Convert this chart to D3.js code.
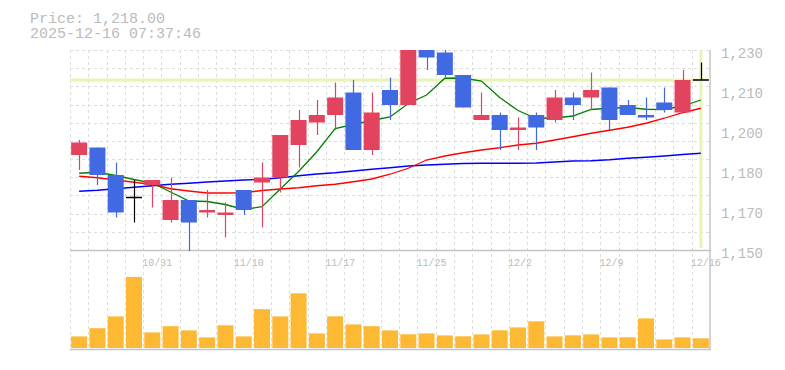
<!DOCTYPE html>
<meta charset="utf-8">
<head>
  <script src="https://d3js.org/d3.v7.min.js"></script>
  <style>
    body { margin: 0; background: #fff; }
    text { font-family: "Liberation Mono", "DejaVu Sans Mono", monospace; fill: #bbb; }
  </style>
</head>
<body>
  <div id="chart"></div>
  <script>
    var dates = ["10/27", "10/28", "10/29", "10/30", "10/31", "11/4", "11/5", "11/6", "11/7",
      "11/10", "11/11", "11/12", "11/13", "11/14", "11/17", "11/18", "11/19", "11/20", "11/21",
      "11/25", "11/26", "11/27", "11/28", "12/1", "12/2", "12/3", "12/4", "12/5",
      "12/8", "12/9", "12/10", "12/11", "12/12", "12/15", "12/16"];
    var opens = [1188, 1191, 1180, 1171, 1176, 1162, 1170, 1165, 1164, 1174, 1177, 1179, 1192, 1201, 1204, 1213, 1190, 1214, 1208,
      1233, 1229, 1220, 1202, 1204, 1198, 1204, 1202, 1211, 1211, 1215, 1208, 1204, 1209, 1205, 1218];
    var highs = [1194, 1191, 1185, 1178, 1178, 1179, 1170, 1174, 1169, 1174, 1185, 1196, 1206, 1210, 1217, 1218, 1213, 1219, 1236,
      1236, 1231, 1220, 1213, 1205, 1203, 1205, 1214, 1213, 1221, 1215, 1210, 1211, 1215, 1222, 1225];
    var lows = [1182, 1176, 1163, 1161, 1167, 1161, 1149, 1163, 1155, 1164, 1159, 1173, 1183, 1196, 1198, 1190, 1188, 1202, 1208,
      1222, 1219, 1207, 1202, 1190, 1190, 1190, 1201, 1202, 1206, 1198, 1204, 1202, 1205, 1205, 1218];
    var closes = [1193, 1180, 1165, 1171, 1178, 1170, 1161, 1166, 1165, 1166, 1179, 1196, 1202, 1204, 1211, 1190, 1205, 1208, 1233,
      1227, 1220, 1207, 1204, 1198, 1199, 1199, 1211, 1208, 1214, 1202, 1204, 1203, 1206, 1218, 1218];
    var volumes = [11600, 19800, 31600, 71100, 15600, 21800, 17600, 10600, 22700, 11600, 38800, 31600, 54700, 14600, 31700,
      23600, 21800, 17600, 13700, 14600, 12600, 11700, 13600, 17700, 20600, 26700, 11600, 12700, 13600, 10600, 10700,
      29600, 8600, 10600, 9700];
    var ma5 = [1180.7, 1181.1, 1179.8, 1178.2, 1176.8, 1173.2, 1169.6, 1169.4, 1168.2, 1166.2, 1167.3, 1174.4, 1181.4, 1189.3,
      1198.6, 1200.2, 1201.8, 1203.2, 1208.6, 1212, 1218.7, 1218.8, 1217.6, 1211, 1205.8, 1202.6, 1202.8, 1203.6, 1206.2,
      1206.7, 1207, 1206.3, 1206.2, 1207.6, 1210];
    var ma25 = [1179.5, 1178.9, 1178, 1177.1, 1176.2, 1174.5, 1173.6, 1172.8, 1172.8, 1172.9, 1173.8, 1174.4, 1174.9, 1175.7,
      1176.3, 1177.3, 1178.4, 1180.3, 1182.7, 1186, 1187.6, 1188.9, 1190, 1190.9, 1192, 1192.7, 1194, 1195.3, 1196.7,
      1197.9, 1199.1, 1200.7, 1202.7, 1204.9, 1206.7];
    var ma75 = [1173.5, 1173.9, 1174.5, 1175.1, 1175.7, 1176.3, 1176.7, 1177.2, 1177.6, 1178, 1178.2, 1178.9, 1179.7, 1180.4,
      1180.9, 1181.6, 1182.3, 1182.9, 1183.6, 1184, 1184.3, 1184.6, 1184.7, 1184.7, 1184.7, 1184.8, 1185.2, 1185.6, 1185.7,
      1186.1, 1186.7, 1187.1, 1187.6, 1188.2, 1188.7];
    var labelDates = ["10/31", "11/10", "11/17", "11/25", "12/2", "12/9", "12/16"];
    var yTicks = [1150, 1166, 1182, 1198, 1214, 1230];
    var yTickLabels = ["1,150", "1,170", "1,180", "1,200", "1,210", "1,230"];
    var lastPrice = 1218;
    var headerLines = ["Price: 1,218.00", "2025-12-16 07:37:46"];

    var plotLeft = 70, plotRight = 710, plotTop = 50, priceBottom = 250, volBottom = 348, frameBottom = 349.5;

    var svg = d3.select("#chart").append("svg")
      .attr("width", 785)
      .attr("height", 370);

    var x = d3.scaleBand()
      .domain(dates)
      .range([plotLeft, plotRight])
      .paddingInner(0.125)
      .paddingOuter(0.0625);
    var step = x.step();
    var cx = function (d) { return x(d) + x.bandwidth() / 2; };

    var y = d3.scaleLinear().domain([1150, 1230]).range([priceBottom, plotTop]);
    var yVol = d3.scaleLinear().domain([0, 98000]).range([volBottom, priceBottom]);

    svg.append("defs").append("clipPath").attr("id", "clip")
      .append("rect")
      .attr("x", plotLeft).attr("y", plotTop)
      .attr("width", plotRight - plotLeft).attr("height", priceBottom - plotTop + 1);

    // grid
    var grid = svg.append("g")
      .attr("stroke", "#ddd")
      .attr("stroke-dasharray", "3,3")
      .attr("shape-rendering", "crispEdges");
    d3.range(dates.length).forEach(function (i) {
      var gx = Math.round(plotLeft + i * step) + 0.5;
      grid.append("line").attr("x1", gx).attr("x2", gx).attr("y1", plotTop).attr("y2", frameBottom);
    });
    var hStep = (priceBottom - plotTop) / 11;
    d3.range(11).forEach(function (k) {
      var gy = Math.round(plotTop + k * hStep) + 0.5;
      grid.append("line").attr("x1", plotLeft).attr("x2", plotRight).attr("y1", gy).attr("y2", gy);
    });

    // frame
    var frame = svg.append("g").attr("stroke", "#c4c4c4").attr("stroke-width", 1.5);
    frame.append("line").attr("x1", plotLeft).attr("x2", plotRight + 0.75).attr("y1", priceBottom + 0.5).attr("y2", priceBottom + 0.5);
    frame.append("line").attr("x1", plotLeft).attr("x2", plotRight + 0.75).attr("y1", frameBottom).attr("y2", frameBottom);
    frame.append("line").attr("x1", plotRight).attr("x2", plotRight).attr("y1", plotTop).attr("y2", frameBottom + 0.75);

    // current price markers
    var last = dates[dates.length - 1];
    svg.append("line")
      .attr("x1", plotLeft).attr("x2", plotRight)
      .attr("y1", y(lastPrice)).attr("y2", y(lastPrice))
      .attr("stroke", "#e6f5b4").attr("stroke-width", 3);
    svg.append("line")
      .attr("x1", cx(last)).attr("x2", cx(last))
      .attr("y1", plotTop).attr("y2", priceBottom - 2)
      .attr("stroke", "#e6f5b4").attr("stroke-width", 3);

    var plot = svg.append("g").attr("clip-path", "url(#clip)");

    // moving averages
    var line = d3.line()
      .x(function (d, i) { return cx(dates[i]); })
      .y(function (d) { return y(d); });
    [[ma75, "#0000ff"], [ma25, "#ff0000"], [ma5, "#008000"]].forEach(function (m) {
      plot.append("path")
        .datum(m[0])
        .attr("fill", "none")
        .attr("stroke", m[1])
        .attr("stroke-width", 1.3)
        .attr("d", line);
    });

    // candles
    var candles = dates.map(function (d, i) {
      return { date: d, o: opens[i], h: highs[i], l: lows[i], c: closes[i], v: volumes[i] };
    });
    var color = function (d) {
      if (d.c > d.o) return "#e2445f";
      if (d.c < d.o) return "#4169e1";
      return "#000";
    };

    plot.selectAll(".wick")
      .data(candles)
      .join("line")
      .attr("class", "wick")
      .attr("x1", function (d) { return Math.round(cx(d.date)) + 0.5; })
      .attr("x2", function (d) { return Math.round(cx(d.date)) + 0.5; })
      .attr("y1", function (d) { return y(d.h); })
      .attr("y2", function (d) { return y(d.l); })
      .attr("stroke", color)
      .attr("stroke-width", 1.2);

    plot.selectAll(".body")
      .data(candles)
      .join("rect")
      .attr("class", "body")
      .attr("x", function (d) { return x(d.date); })
      .attr("width", x.bandwidth())
      .attr("y", function (d) { return d.o === d.c ? y(d.c) - 0.75 : y(Math.max(d.o, d.c)); })
      .attr("height", function (d) { return d.o === d.c ? 1.5 : y(Math.min(d.o, d.c)) - y(Math.max(d.o, d.c)); })
      .attr("fill", color);

    // volume
    svg.selectAll(".vol")
      .data(candles)
      .join("rect")
      .attr("class", "vol")
      .attr("x", function (d) { return x(d.date); })
      .attr("width", x.bandwidth())
      .attr("y", function (d) { return yVol(d.v); })
      .attr("height", function (d) { return volBottom - yVol(d.v); })
      .attr("fill", "#fdb934");

    // axes
    var yAxis = svg.append("g")
      .attr("transform", "translate(" + plotRight + ",0)")
      .call(d3.axisRight(y).tickValues(yTicks)
        .tickFormat(function (d, i) { return yTickLabels[i]; })
        .tickSize(0).tickPadding(11));
    yAxis.select(".domain").remove();
    yAxis.selectAll("text")
      .attr("dy", "0.52em")
      .style("font-size", "14px")
      .style("fill", "#bbb")
      .style("font-family", "Liberation Mono, monospace");

    var xAxis = svg.append("g")
      .attr("transform", "translate(0," + priceBottom + ")")
      .call(d3.axisBottom(x).tickValues(labelDates).tickSize(0));
    xAxis.select(".domain").remove();
    xAxis.selectAll("text")
      .attr("y", 16)
      .attr("dy", 0)
      .attr("x", -x.bandwidth() / 2 - 2)
      .attr("text-anchor", "start")
      .style("font-size", "10px")
      .style("fill", "#bbb")
      .style("font-family", "Liberation Mono, monospace");

    // header
    svg.selectAll(".header")
      .data(headerLines)
      .join("text")
      .attr("class", "header")
      .attr("x", 30)
      .attr("y", function (d, i) { return 23 + i * 15; })
      .style("font-size", "15px")
      .text(function (d) { return d; });
  </script>
</body>
</html>
